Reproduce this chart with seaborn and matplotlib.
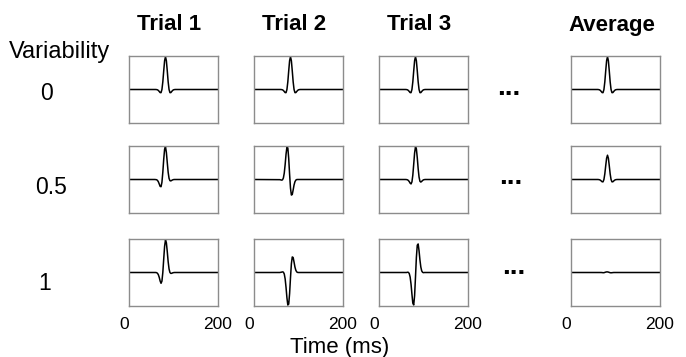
import matplotlib
matplotlib.use("Agg")
import matplotlib.pyplot as plt
import seaborn as sns
from matplotlib.transforms import ScaledTranslation

# ---------------- data ----------------
time_ms = [0, 58, 60, 62, 64, 66, 68, 70, 72, 74, 76, 78, 80, 82, 84, 86,
           88, 90, 92, 94, 96, 98, 100, 102, 104, 200]

trial_titles = ["Trial 1", "Trial 2", "Trial 3", "Average"]
variability_labels = ["0", "0.5", "1"]
xtick_values = [0, 200]
xtick_labels = ["0", "200"]

var0_trial1 = [0, 0, 0, -0.003, -0.01, -0.029, -0.061, -0.095, -0.095, 0, 0.232, 0.566, 0.874, 1.0,
               0.874, 0.566, 0.232, 0, -0.095, -0.095, -0.061, -0.029, -0.01, -0.003, 0, 0]
var0_trial2 = [0, 0, 0, -0.003, -0.01, -0.029, -0.061, -0.095, -0.095, 0, 0.232, 0.566, 0.874, 1.0,
               0.874, 0.566, 0.232, 0, -0.095, -0.095, -0.061, -0.029, -0.01, -0.003, 0, 0]
var0_trial3 = [0, 0, 0, -0.003, -0.01, -0.029, -0.061, -0.095, -0.095, 0, 0.232, 0.566, 0.874, 1.0,
               0.874, 0.566, 0.232, 0, -0.095, -0.095, -0.061, -0.029, -0.01, -0.003, 0, 0]
var0_average = [0, 0, 0, -0.003, -0.01, -0.029, -0.061, -0.095, -0.095, 0, 0.232, 0.566, 0.874, 1.0,
                0.874, 0.566, 0.232, 0, -0.095, -0.095, -0.061, -0.029, -0.01, -0.003, 0, 0]

var05_trial1 = [0, 0, -0.003, -0.007, -0.027, -0.070, -0.138, -0.210, -0.219, -0.085, 0.220, 0.613,
                0.921, 0.998, 0.822, 0.513, 0.219, 0.035, -0.036, -0.043, -0.027, -0.012, -0.003,
                0, 0, 0]
var05_trial2 = [0, -0.005, -0.011, -0.019, -0.011, 0.045, 0.195, 0.456, 0.772, 0.991, 0.962, 0.641,
                0.159, -0.265, -0.474, -0.456, -0.317, -0.167, -0.068, -0.019, -0.002, 0, 0, 0, 0, 0]
var05_trial3 = [0, 0, 0, -0.003, -0.010, -0.029, -0.065, -0.112, -0.135, -0.073, 0.132, 0.465,
                0.806, 0.995, 0.933, 0.663, 0.330, 0.073, -0.055, -0.078, -0.057, -0.029, -0.010,
                -0.003, 0, 0]
var05_average = [0, 0, 0, -0.002, -0.007, -0.021, -0.045, -0.070, -0.070, 0, 0.172, 0.419, 0.647,
                 0.740, 0.647, 0.419, 0.172, 0, -0.070, -0.070, -0.045, -0.021, -0.007, -0.002, 0, 0]

var1_trial1 = [0, 0, 0, -0.005, -0.024, -0.069, -0.151, -0.260, -0.329, -0.263, 0, 0.409, 0.799,
               0.988, 0.904, 0.634, 0.329, 0.108, 0, -0.028, -0.024, -0.011, -0.004, 0, 0, 0]
var1_trial2 = [0, 0, 0.005, 0.011, 0.019, 0.011, -0.045, -0.195, -0.456, -0.772, -0.991, -0.962,
               -0.641, -0.159, 0.265, 0.474, 0.456, 0.317, 0.167, 0.068, 0.019, 0.002, 0, 0, 0, 0]
var1_trial3 = [0, 0, 0, 0, 0.008, 0.005, -0.032, -0.140, -0.356, -0.660, -0.934, -0.989, -0.705,
               -0.140, 0.460, 0.831, 0.869, 0.660, 0.382, 0.166, 0.048, 0.005, -0.005, 0, 0, 0]
var1_average = [0, 0, 0, 0, 0, 0, 0, -0.003, -0.006, -0.006, 0.003, 0.012, 0.018, 0.018, 0.012,
                0.003, -0.006, -0.009, -0.006, -0.003, 0, 0, 0, 0, 0, 0]

panels = [
    [var0_trial1, var0_trial2, var0_trial3, var0_average],
    [var05_trial1, var05_trial2, var05_trial3, var05_average],
    [var1_trial1, var1_trial2, var1_trial3, var1_average],
]

# ---------------- style ----------------
sns.set_theme(style="white")
plt.rcParams["font.family"] = ["Liberation Sans", "DejaVu Sans"]

W, H = 686, 357
fig = plt.figure(figsize=(W / 100, H / 100), dpi=100)
fig.patch.set_facecolor("white")

col_left = [129, 254, 379, 571]
row_top = [56, 146, 239]
panel_w, panel_h = 89, 67


def rect(x, y, w, h):
    return [x / W, 1 - (y + h) / H, w / W, h / H]


def fx(x):
    return x / W


def fy(y):
    return 1 - y / H


for r in range(3):
    for c in range(4):
        ax = fig.add_axes(rect(col_left[c], row_top[r], panel_w, panel_h))
        sns.lineplot(x=time_ms, y=panels[r][c], ax=ax, color="black", linewidth=1.1)
        ax.set_xlim(0, 200)
        ax.set_ylim(-1.02, 1.02)
        ax.set_yticks([])
        ax.set_xlabel("")
        ax.set_ylabel("")
        ax.set_facecolor("white")
        for sp in ax.spines.values():
            sp.set_visible(True)
            sp.set_color("#8c8c8c")
            sp.set_linewidth(1.0)
        if r == 2:
            ax.set_xticks(xtick_values)
            ax.set_xticklabels(xtick_labels, fontsize=12.5, color="black")
            ax.tick_params(axis="x", length=0, pad=8)
            lbl0 = ax.xaxis.get_major_ticks()[0].label1
            lbl0.set_transform(lbl0.get_transform() +
                               ScaledTranslation(-5 / 100, 0, fig.dpi_scale_trans))
        else:
            ax.set_xticks([])

# column titles
for c, title in enumerate(trial_titles):
    cx = col_left[c] + panel_w / 2 - 4
    fig.text(fx(cx), fy(25), title, ha="center", va="center",
             fontsize=16, fontweight="bold", color="black")

# row labels
fig.text(fx(60), fy(52), "Variability", ha="center", va="center", fontsize=17, color="black")
row_label_pos = [(47, 94), (51, 187), (45, 283)]
for (lx, ly), lab in zip(row_label_pos, variability_labels):
    fig.text(fx(lx), fy(ly), lab, ha="center", va="center", fontsize=16.5, color="black")

# ellipses between Trial 3 and Average
dots_pos = [(509, 93), (511, 182), (514, 272)]
for dx, dy in dots_pos:
    fig.text(fx(dx), fy(dy + 2), "...", ha="center", va="baseline",
             fontsize=20, fontweight="bold", color="black")

# x axis label
fig.text(fx(340), fy(347), "Time (ms)", ha="center", va="center", fontsize=16, color="black")

fig.savefig("out.png", dpi=100, facecolor="white")
